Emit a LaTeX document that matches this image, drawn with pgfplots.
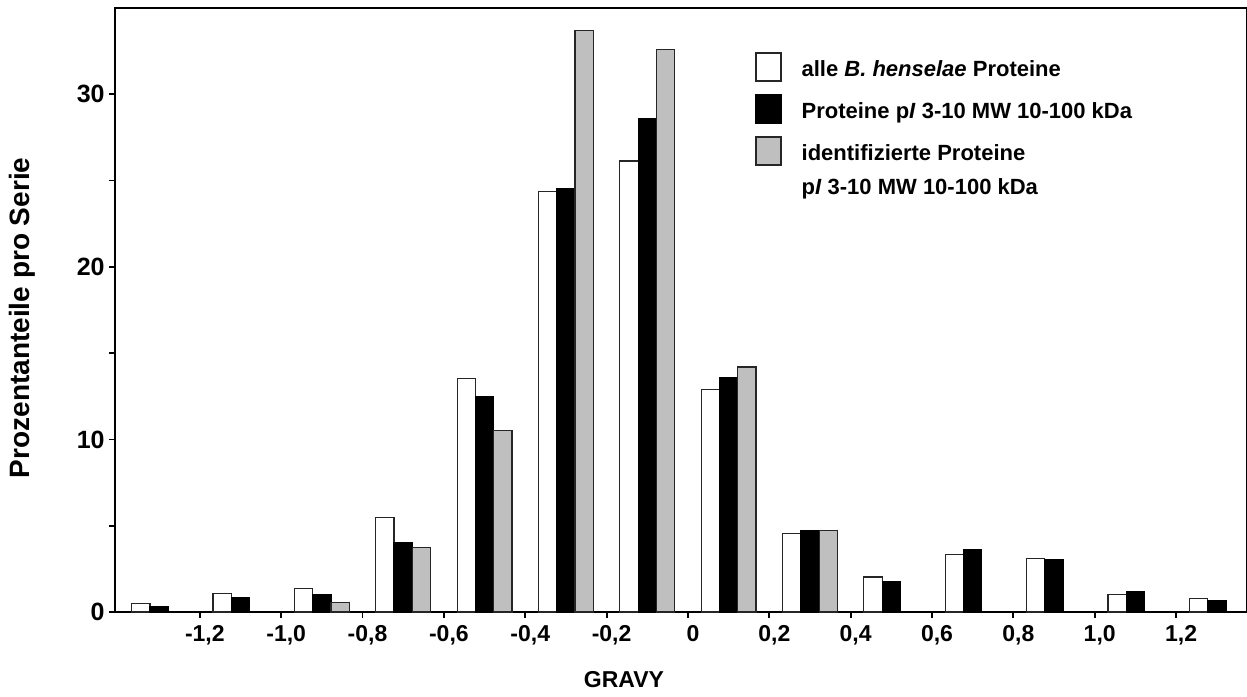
\documentclass[border=0pt]{standalone}
\usepackage{fontspec}
\setmainfont{Liberation Sans}
\usepackage{pgfplots}
\pgfplotsset{compat=1.18}
\usepackage{pgfplotstable}

\pgfplotstableread{
k white black
0 0.48 0.29
1 1.08 0.83
2 1.35 0.99
3 5.47 4.02
4 13.51 12.50
5 24.37 24.52
6 26.13 28.60
7 12.89 13.58
8 4.54 4.70
9 2.03 1.78
10 3.34 3.61
11 3.11 3.06
12 1.03 1.20
13 0.77 0.64
}\datawb

\pgfplotstableread{
k gray
2 0.56
3 3.73
4 10.53
5 33.68
6 32.58
7 14.20
8 4.74
}\datag

\newcommand\lstrut{\rule[-3.4pt]{0pt}{14.6pt}}

\begin{document}
\fontsize{11}{13}\selectfont\bfseries
\begin{tikzpicture}
\path[use as bounding box] (-57.5pt,-42pt) rectangle (566pt,306pt);
\begin{axis}[
  at={(0pt,0pt)}, anchor=south west,
  width=566pt, height=302pt, scale only axis,
  xmin=-0.543, xmax=13.372, ymin=0, ymax=35,
  ybar, bar width=0.225,
  axis line style={line width=0.9pt},
  xtick={0.5,1.5,...,12.5},
  xticklabels={{-1,2},{-1,0},{-0,8},{-0,6},{-0,4},{-0,2},0,{0,2},{0,4},{0,6},{0,8},{1,0},{1,2}},
  xticklabel style={xshift=2.5pt, font=\fontsize{11.5}{13}\selectfont\bfseries},
  ytick={0,10,20,30}, yticklabels={0,10,20,30},
  yticklabel style={inner xsep=2pt, font=\fontsize{12.5}{14}\selectfont\bfseries},
  minor ytick={5,15,25},
  tick align=outside, major tick length=3pt, minor tick length=3pt,
  tick style={line width=0.9pt, black},
  tick pos=left,
  xlabel={GRAVY}, ylabel={Prozentanteile pro Serie},
  xlabel style={at={(axis description cs:0.4496,-0.1126)}, anchor=center, font=\fontsize{11.5}{13}\selectfont\bfseries},
  ylabel style={at={(axis description cs:-0.0822,0.487)}, anchor=center, font=\fontsize{14}{16}\selectfont\bfseries},
  legend style={draw=none, fill=none, at={(axis description cs:0.5654,0.927)},
    anchor=north west, inner sep=0pt, row sep=6.4pt, column sep=10pt,
    nodes={inner sep=0pt}},
  legend cell align=left,
  legend image code/.code={\draw[#1] (0pt,-7pt) rectangle (12.5pt,7pt);},
]
\addplot[bar shift=-0.225, fill=white, draw=black!85, line width=0.6pt] table[x=k, y=white] {\datawb};
\addlegendentry{\lstrut alle \textit{B. henselae} Proteine}
\addplot[bar shift=0, fill=black, draw=black, line width=0.6pt] table[x=k, y=black] {\datawb};
\addlegendentry{\lstrut Proteine p\textit{I} 3-10 MW 10-100 kDa}
\addplot[bar shift=0.225, fill=black!25, draw=black!85, line width=0.6pt] table[x=k, y=gray] {\datag};
\addlegendentry{\lstrut identifizierte Proteine}
\addlegendimage{empty legend}
\addlegendentry{\rule{0pt}{8.2pt}p\textit{I} 3-10 MW 10-100 kDa}
\end{axis}
\end{tikzpicture}
\end{document}
